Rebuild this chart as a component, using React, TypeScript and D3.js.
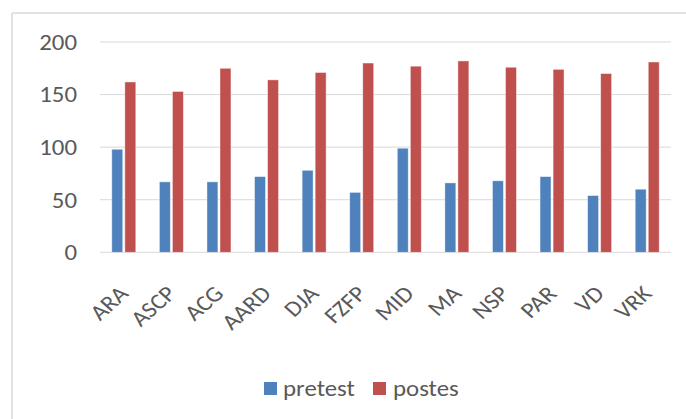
import React from "react";
import * as d3 from "d3";

const categories = ["ARA", "ASCP", "ACG", "AARD", "DJA", "FZFP", "MID", "MA", "NSP", "PAR", "VD", "VRK"];
const pretest = [98, 67, 67, 72, 78, 57, 99, 66, 68, 72, 54, 60];
const postes = [162, 153, 175, 164, 171, 180, 177, 182, 176, 174, 170, 181];
const seriesNames = ["pretest", "postes"];
const seriesColors = ["#4F81BD", "#C0504D"];
const yTicks = [0, 50, 100, 150, 200];

const W = 686;
const H = 419;
const plotLeft = 100;
const plotRight = 671;
const plotTop = 42;
const plotBottom = 252.3;
const FONT = "Carlito, Calibri, Lato, 'Open Sans', sans-serif";
const TEXT = "#595959";
const SX = 1.13;

export default function App() {
  const x = d3.scaleBand<string>().domain(categories).range([plotLeft, plotRight]).paddingInner(0).paddingOuter(0);
  const y = d3.scaleLinear().domain([0, 200]).range([plotBottom, plotTop]);
  const bw = x.bandwidth();
  const sub = d3.scaleBand<string>().domain(seriesNames).range([bw / 2 - 12, bw / 2 + 12]).paddingInner(0.16);
  const values = [pretest, postes];

  return (
    <svg width={W} height={H} style={{ position: "absolute", left: 0, top: 0, background: "#fff" }}>
      <rect x={0} y={0} width={W} height={H} fill="#fff" />
      <line x1={12} y1={13} x2={W} y2={13} stroke="#D9D9D9" strokeWidth={1.5} />
      <line x1={12} y1={13} x2={12} y2={H} stroke="#D9D9D9" strokeWidth={1.5} />
      {yTicks.map((t) => (
        <line key={t} x1={plotLeft} x2={plotRight} y1={y(t)} y2={y(t)} stroke="#D9D9D9" strokeWidth={1} />
      ))}
      {yTicks.map((t) => (
        <text
          key={"l" + t}
          transform={`translate(77 ${y(t)}) scale(${SX} 1)`}
          dy="0.36em"
          textAnchor="end"
          fontFamily={FONT}
          fontSize={22}
          fill={TEXT}
        >
          {t}
        </text>
      ))}
      {values.map((vals, si) =>
        categories.map((c, i) => {
          const bx = (x(c) as number) + (sub(seriesNames[si]) as number);
          return (
            <rect
              key={si + "-" + c}
              x={bx}
              y={y(vals[i])}
              width={sub.bandwidth()}
              height={plotBottom - y(vals[i])}
              fill={seriesColors[si]}
              stroke="#ffffff"
              strokeOpacity={0.55}
              strokeWidth={0.8}
            />
          );
        })
      )}
      {categories.map((c) => {
        const cx = (x(c) as number) + bw / 2 + 6;
        const cy = 295;
        return (
          <text
            key={"x" + c}
            transform={`translate(${cx} ${cy}) scale(${SX} 1) rotate(-45)`}
            textAnchor="end"
            fontFamily={FONT}
            fontSize={22}
            fill={TEXT}
          >
            {c}
          </text>
        );
      })}
      <rect x={264} y={382} width={13} height={13} fill={seriesColors[0]} />
      <text transform={`translate(283 396) scale(${SX} 1)`} fontFamily={FONT} fontSize={22} fill={TEXT}>
        {seriesNames[0]}
      </text>
      <rect x={373} y={382} width={13} height={13} fill={seriesColors[1]} />
      <text transform={`translate(393 396) scale(${SX} 1)`} fontFamily={FONT} fontSize={22} fill={TEXT}>
        {seriesNames[1]}
      </text>
    </svg>
  );
}
